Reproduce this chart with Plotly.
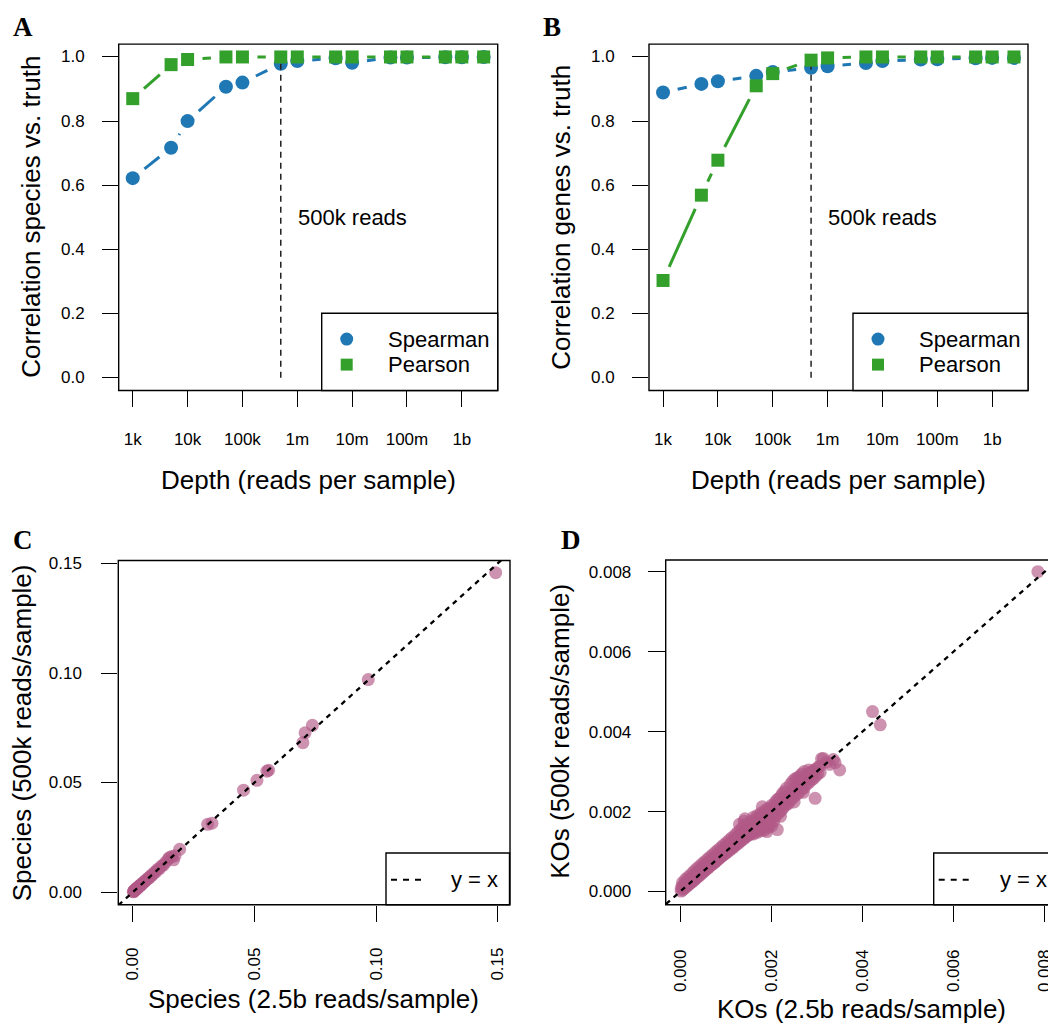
import math
import plotly.graph_objects as go

# The page body adds an 8px margin, so the figure is 8px smaller than the window
OFF = 8
WIN_W, WIN_H = 1056, 1025
FIG_W, FIG_H = WIN_W - OFF, WIN_H - OFF
FONT = "Liberation Sans"
SERIF = "Liberation Serif"

# ---------------- data ----------------
depth = [1e3, 5e3, 1e4, 5e4, 1e5, 5e5, 1e6, 5e6, 1e7, 5e7, 1e8, 5e8, 1e9, 2.5e9]
depth_tickvals = [1e3, 1e4, 1e5, 1e6, 1e7, 1e8, 1e9]
depth_ticktext = ["1k", "10k", "100k", "1m", "10m", "100m", "1b"]
ref_depth = 5e5
ref_label = "500k reads"

species_spearman = [0.622, 0.717, 0.800, 0.907, 0.920, 0.979, 0.987, 0.996, 0.982, 0.998, 0.998, 0.999, 0.999, 1.0]
species_pearson = [0.870, 0.976, 0.992, 1.0, 1.0, 1.0, 1.0, 1.0, 1.0, 1.0, 1.0, 1.0, 1.0, 1.0]
genes_spearman = [0.889, 0.916, 0.924, 0.941, 0.953, 0.966, 0.971, 0.981, 0.987, 0.992, 0.993, 0.996, 0.997, 0.997]
genes_pearson = [0.303, 0.569, 0.678, 0.910, 0.948, 0.990, 0.997, 1.0, 1.0, 1.0, 1.0, 1.0, 1.0, 1.0]

corr_ticks = [0.0, 0.2, 0.4, 0.6, 0.8, 1.0]

# species relative abundance: (2.5b reads/sample, 500k reads/sample)
species_pairs = [
    (0.0001, 0.0001), (0.0003, 0.0002), (0.0004, 0.0005), (0.0006, 0.0006), (0.0007, 0.0008),
    (0.0009, 0.0008), (0.0010, 0.0011), (0.0012, 0.0012), (0.0014, 0.0013), (0.0016, 0.0017),
    (0.0018, 0.0019), (0.0020, 0.0021), (0.0022, 0.0021), (0.0025, 0.0026), (0.0028, 0.0027),
    (0.0031, 0.0032), (0.0034, 0.0033), (0.0037, 0.0038), (0.0041, 0.0040), (0.0045, 0.0046),
    (0.0049, 0.0048), (0.0053, 0.0054), (0.0058, 0.0057), (0.0063, 0.0064), (0.0068, 0.0066),
    (0.0074, 0.0075), (0.0080, 0.0078), (0.0087, 0.0088), (0.0094, 0.0092), (0.0101, 0.0103),
    (0.0109, 0.0107), (0.0117, 0.0118), (0.0126, 0.0124), (0.0135, 0.0137), (0.0146, 0.0152),
    (0.0151, 0.0158), (0.0160, 0.0162), (0.0167, 0.0147), (0.0173, 0.0166), (0.0192, 0.0195),
    (0.0307, 0.0309), (0.0325, 0.0314), (0.0455, 0.0465), (0.0510, 0.0510), (0.0551, 0.0552),
    (0.0558, 0.0556), (0.0699, 0.0682), (0.0708, 0.0727), (0.0738, 0.0761), (0.0968, 0.0970),
    (0.1492, 0.1458),
]
species_ticks = [0.0, 0.05, 0.10, 0.15]

# KO relative abundance: (2.5b reads/sample, 500k reads/sample)
ko_pairs = [
    (0.2e-4, 0.1e-4), (0.2e-4, 0.9e-4),
    (0.5e-4, 0.4e-4), (0.5e-4, 1.3e-4), (0.5e-4, 2.2e-4),
    (0.8e-4, 0.7e-4), (0.8e-4, 1.7e-4),
    (1.1e-4, 1.0e-4), (1.1e-4, 2.0e-4), (1.1e-4, 3.0e-4),
    (1.4e-4, 1.3e-4), (1.4e-4, 2.4e-4),
    (1.7e-4, 1.6e-4), (1.7e-4, 2.6e-4), (1.7e-4, 3.6e-4),
    (2.0e-4, 1.9e-4), (2.0e-4, 3.0e-4),
    (2.3e-4, 2.2e-4), (2.3e-4, 3.1e-4), (2.3e-4, 4.2e-4),
    (2.6e-4, 2.4e-4), (2.6e-4, 3.5e-4),
    (2.9e-4, 2.8e-4), (2.9e-4, 3.8e-4), (2.9e-4, 4.9e-4),
    (3.2e-4, 3.0e-4), (3.2e-4, 4.2e-4),
    (3.5e-4, 3.4e-4), (3.5e-4, 4.5e-4), (3.5e-4, 5.6e-4),
    (3.8e-4, 3.6e-4), (3.8e-4, 4.8e-4),
    (4.1e-4, 4.0e-4), (4.1e-4, 5.1e-4), (4.1e-4, 6.2e-4),
    (4.4e-4, 4.2e-4), (4.4e-4, 5.4e-4),
    (4.7e-4, 4.6e-4), (4.7e-4, 5.7e-4), (4.7e-4, 6.8e-4),
    (5.0e-4, 4.8e-4), (5.0e-4, 6.0e-4),
    (5.3e-4, 5.2e-4), (5.3e-4, 6.3e-4), (5.3e-4, 7.4e-4),
    (5.6e-4, 5.4e-4), (5.6e-4, 6.6e-4),
    (5.9e-4, 5.8e-4), (5.9e-4, 6.9e-4), (5.9e-4, 8.0e-4),
    (6.2e-4, 6.0e-4), (6.2e-4, 7.2e-4),
    (6.5e-4, 6.4e-4), (6.5e-4, 7.5e-4), (6.5e-4, 8.6e-4),
    (6.8e-4, 6.6e-4), (6.8e-4, 7.8e-4),
    (7.1e-4, 7.0e-4), (7.1e-4, 8.1e-4), (7.1e-4, 9.2e-4),
    (7.4e-4, 7.1e-4), (7.4e-4, 8.4e-4),
    (7.7e-4, 7.5e-4), (7.7e-4, 8.7e-4), (7.7e-4, 9.8e-4),
    (8.0e-4, 7.7e-4), (8.0e-4, 9.0e-4),
    (8.3e-4, 8.1e-4), (8.3e-4, 9.3e-4), (8.3e-4, 10.4e-4),
    (8.6e-4, 8.3e-4), (8.6e-4, 9.6e-4),
    (8.9e-4, 8.7e-4), (8.9e-4, 9.9e-4), (8.9e-4, 11.0e-4),
    (9.2e-4, 8.9e-4), (9.2e-4, 10.2e-4),
    (9.5e-4, 9.2e-4), (9.5e-4, 10.5e-4), (9.5e-4, 11.6e-4),
    (9.8e-4, 9.4e-4), (9.8e-4, 10.8e-4),
    (10.1e-4, 9.8e-4), (10.1e-4, 11.1e-4), (10.1e-4, 12.2e-4),
    (10.4e-4, 9.9e-4), (10.4e-4, 11.4e-4),
    (10.7e-4, 10.4e-4), (10.7e-4, 11.7e-4), (10.7e-4, 12.8e-4),
    (11.0e-4, 10.5e-4), (11.0e-4, 12.0e-4),
    (11.3e-4, 11.0e-4), (11.3e-4, 12.3e-4), (11.3e-4, 13.4e-4),
    (11.6e-4, 11.0e-4), (11.6e-4, 12.6e-4),
    (11.9e-4, 11.5e-4), (11.9e-4, 12.9e-4), (11.9e-4, 14.0e-4),
    (12.2e-4, 11.6e-4), (12.2e-4, 13.2e-4),
    (12.5e-4, 12.1e-4), (12.5e-4, 13.5e-4), (12.5e-4, 14.7e-4),
    (12.8e-4, 12.1e-4), (12.8e-4, 13.8e-4),
    (13.0e-4, 16.8e-4),
    (13.1e-4, 12.6e-4), (13.1e-4, 14.1e-4), (13.1e-4, 15.3e-4),
    (13.4e-4, 12.7e-4), (13.4e-4, 14.4e-4),
    (13.7e-4, 13.2e-4), (13.7e-4, 14.7e-4), (13.7e-4, 16.0e-4),
    (14.0e-4, 13.2e-4), (14.0e-4, 15.0e-4), (14.0e-4, 17.6e-4),
    (14.2e-4, 18.2e-4),
    (14.3e-4, 13.7e-4), (14.3e-4, 15.3e-4), (14.3e-4, 16.5e-4),
    (14.6e-4, 13.8e-4), (14.6e-4, 15.6e-4),
    (14.9e-4, 14.2e-4), (14.9e-4, 15.9e-4), (14.9e-4, 17.0e-4),
    (15.2e-4, 14.2e-4), (15.2e-4, 16.2e-4),
    (15.5e-4, 14.6e-4), (15.5e-4, 16.5e-4), (15.5e-4, 17.6e-4),
    (15.8e-4, 14.6e-4), (15.8e-4, 16.8e-4),
    (16.1e-4, 14.4e-4), (16.1e-4, 15.8e-4), (16.1e-4, 17.2e-4), (16.1e-4, 18.6e-4),
    (16.5e-4, 15.0e-4), (16.5e-4, 16.6e-4), (16.5e-4, 18.0e-4),
    (16.9e-4, 14.8e-4), (16.9e-4, 16.2e-4), (16.9e-4, 17.6e-4), (16.9e-4, 19.0e-4),
    (17.3e-4, 15.6e-4), (17.3e-4, 17.0e-4), (17.3e-4, 18.6e-4),
    (17.7e-4, 15.2e-4), (17.7e-4, 16.8e-4), (17.7e-4, 18.2e-4), (17.7e-4, 19.6e-4),
    (18.0e-4, 21.2e-4),
    (18.1e-4, 16.0e-4), (18.1e-4, 17.6e-4), (18.1e-4, 19.2e-4),
    (18.5e-4, 15.4e-4), (18.5e-4, 17.2e-4), (18.5e-4, 18.8e-4), (18.5e-4, 20.2e-4),
    (18.9e-4, 16.4e-4), (18.9e-4, 18.2e-4), (18.9e-4, 19.8e-4),
    (19.0e-4, 15.0e-4),
    (19.3e-4, 16.0e-4), (19.3e-4, 17.8e-4), (19.3e-4, 19.4e-4), (19.3e-4, 20.8e-4),
    (19.7e-4, 16.8e-4), (19.7e-4, 18.8e-4), (19.7e-4, 20.6e-4),
    (20.1e-4, 16.4e-4), (20.1e-4, 18.6e-4), (20.1e-4, 20.2e-4), (20.1e-4, 21.6e-4),
    (20.5e-4, 17.6e-4), (20.5e-4, 19.6e-4), (20.5e-4, 21.4e-4),
    (20.9e-4, 18.8e-4), (20.9e-4, 20.6e-4), (20.9e-4, 22.4e-4),
    (21.3e-4, 15.5e-4), (21.3e-4, 19.4e-4), (21.3e-4, 21.2e-4), (21.3e-4, 23.0e-4),
    (21.7e-4, 19.8e-4), (21.7e-4, 21.6e-4), (21.7e-4, 23.2e-4),
    (22.0e-4, 18.8e-4),
    (22.1e-4, 20.2e-4), (22.1e-4, 22.0e-4), (22.1e-4, 23.8e-4),
    (22.5e-4, 20.8e-4), (22.5e-4, 22.4e-4), (22.5e-4, 24.6e-4),
    (22.9e-4, 21.4e-4), (22.9e-4, 23.0e-4), (22.9e-4, 25.0e-4),
    (23.3e-4, 21.8e-4), (23.3e-4, 23.6e-4), (23.3e-4, 25.8e-4),
    (23.7e-4, 22.0e-4), (23.7e-4, 24.0e-4),
    (24.2e-4, 22.8e-4), (24.2e-4, 24.6e-4), (24.2e-4, 26.8e-4),
    (24.7e-4, 23.4e-4), (24.7e-4, 25.2e-4), (24.7e-4, 27.6e-4),
    (25.0e-4, 22.4e-4),
    (25.2e-4, 24.0e-4), (25.2e-4, 26.0e-4), (25.2e-4, 28.2e-4),
    (25.7e-4, 24.4e-4), (25.7e-4, 26.4e-4), (25.7e-4, 28.4e-4),
    (26.2e-4, 25.0e-4), (26.2e-4, 27.2e-4), (26.2e-4, 28.8e-4),
    (26.7e-4, 25.6e-4), (26.7e-4, 27.6e-4), (26.7e-4, 29.4e-4),
    (27.0e-4, 24.8e-4),
    (27.2e-4, 26.0e-4), (27.2e-4, 28.2e-4), (27.2e-4, 30.0e-4),
    (27.7e-4, 26.8e-4), (27.7e-4, 28.8e-4),
    (28.2e-4, 27.2e-4), (28.2e-4, 29.4e-4), (28.2e-4, 30.4e-4),
    (28.7e-4, 27.8e-4), (28.7e-4, 29.8e-4),
    (29.2e-4, 28.2e-4), (29.2e-4, 30.2e-4),
    (29.6e-4, 23.3e-4),
    (29.7e-4, 28.8e-4), (29.7e-4, 30.6e-4),
    (30.2e-4, 29.4e-4), (30.2e-4, 31.0e-4),
    (30.7e-4, 29.8e-4), (30.7e-4, 31.4e-4),
    (31.0e-4, 33.2e-4), (31.4e-4, 33.3e-4), (32.2e-4, 32.4e-4), (32.8e-4, 31.8e-4),
    (33.6e-4, 33.0e-4), (34.0e-4, 32.2e-4), (35.0e-4, 30.4e-4),
    (42.2e-4, 45.0e-4), (43.9e-4, 41.7e-4), (78.5e-4, 80.0e-4),
]
ko_ticks = [0.0, 0.002, 0.004, 0.006, 0.008]

species_full = [p[0] for p in species_pairs]
species_sub = [p[1] for p in species_pairs]
ko_full = [p[0] for p in ko_pairs]
ko_sub = [p[1] for p in ko_pairs]

# ---------------- styling ----------------
BLUE = "#1f78b4"
GREEN = "#33a02c"
PINK = "rgba(178,90,135,0.66)"


# positions below are window pixels (as measured on the reference)
def px(xp):
    return (xp - OFF) / FIG_W


def py(yp):
    return 1 - (yp - OFF) / FIG_H


def dom_x(p0, p1):
    return [max(0.0, px(p0)), min(1.0, px(p1))]


def dom_y(top, bottom):
    return [py(bottom), py(top)]


# panel boxes in window pixels (left, right, top, bottom)
BOX_A = (118.7, 497.7, 38.3, 386.7)
BOX_B = (649.0, 1028.0, 38.3, 386.7)
BOX_C = (118.3, 510.0, 557.7, 904.0)
BOX_D = (665.7, 1056.0, 557.3, 904.0)

XR_DEPTH = [2.744, 9.654]      # log10 range
YR_CORR = [-0.04, 1.04]
XR_SPEC = [-0.00604, 0.1551]
YR_SPEC = [-0.0058, 0.1514]
XR_KO = [-0.00032, 0.008248]
YR_KO = [-0.00033, 0.00829]


def gapped_segments(xs, ys, box, xr, yr, gap=15.0):
    """R type='b' style: segments between points, shortened by a gap at each end."""
    wpx = box[1] - box[0]
    hpx = box[3] - box[2]
    sx, sy = [], []
    for i in range(len(xs) - 1):
        x0 = (math.log10(xs[i]) - xr[0]) / (xr[1] - xr[0]) * wpx
        x1 = (math.log10(xs[i + 1]) - xr[0]) / (xr[1] - xr[0]) * wpx
        y0 = (ys[i] - yr[0]) / (yr[1] - yr[0]) * hpx
        y1 = (ys[i + 1] - yr[0]) / (yr[1] - yr[0]) * hpx
        dx, dy = x1 - x0, y1 - y0
        L = math.hypot(dx, dy)
        if L <= 2 * gap:
            continue
        ux, uy = dx / L, dy / L
        for (a, b) in ((x0 + ux * gap, y0 + uy * gap), (x1 - ux * gap, y1 - uy * gap)):
            sx.append(10 ** (xr[0] + a / wpx * (xr[1] - xr[0])))
            sy.append(yr[0] + b / hpx * (yr[1] - yr[0]))
        sx.append(None)
        sy.append(None)
    return sx, sy


fig = go.Figure()


def add_corr_panel(xa, ya, box, spear, pear):
    sx, sy = gapped_segments(depth, spear, box, XR_DEPTH, YR_CORR)
    fig.add_trace(go.Scatter(x=sx, y=sy, mode="lines", xaxis=xa, yaxis=ya,
                             line=dict(color=BLUE, width=3), showlegend=False, hoverinfo="skip"))
    fig.add_trace(go.Scatter(x=depth, y=spear, mode="markers", xaxis=xa, yaxis=ya,
                             marker=dict(symbol="circle", size=14, color=BLUE, line=dict(width=0)),
                             showlegend=False, cliponaxis=False))
    fig.add_trace(go.Scatter(x=[ref_depth, ref_depth], y=[0, 1], mode="lines", xaxis=xa, yaxis=ya,
                             line=dict(color="#222222", width=1.5, dash="6px,5px"),
                             showlegend=False, hoverinfo="skip"))
    gx, gy = gapped_segments(depth, pear, box, XR_DEPTH, YR_CORR)
    fig.add_trace(go.Scatter(x=gx, y=gy, mode="lines", xaxis=xa, yaxis=ya,
                             line=dict(color=GREEN, width=3), showlegend=False, hoverinfo="skip"))
    fig.add_trace(go.Scatter(x=depth, y=pear, mode="markers", xaxis=xa, yaxis=ya,
                             marker=dict(symbol="square", size=13, color=GREEN, line=dict(width=0)),
                             showlegend=False, cliponaxis=False))


add_corr_panel("x", "y", BOX_A, species_spearman, species_pearson)
add_corr_panel("x2", "y2", BOX_B, genes_spearman, genes_pearson)


def add_scatter_panel(xa, ya, xs, ys, xr):
    fig.add_trace(go.Scatter(x=xs, y=ys, mode="markers", xaxis=xa, yaxis=ya,
                             marker=dict(size=13, color=PINK, line=dict(width=0)),
                             showlegend=False))
    fig.add_trace(go.Scatter(x=[xr[0] * 2, xr[1] * 1.2], y=[xr[0] * 2, xr[1] * 1.2],
                             mode="lines", xaxis=xa, yaxis=ya,
                             line=dict(color="black", width=2.3, dash="5px,5px"),
                             showlegend=False, hoverinfo="skip"))


add_scatter_panel("x3", "y3", species_full, species_sub, XR_SPEC)
add_scatter_panel("x4", "y4", ko_full, ko_sub, XR_KO)

tickfont = dict(family=FONT, size=17, color="black")


def ax(**kw):
    d = dict(showgrid=False, zeroline=False, showline=False, ticks="outside",
             ticklen=16, tickwidth=1.3, tickcolor="black", tickfont=tickfont,
             fixedrange=True)
    d.update(kw)
    return d


# correlation y axes: tick marks from the axis, labels placed as annotations below
corr_axis = dict(range=YR_CORR, tickvals=corr_ticks, showticklabels=False)

layout = dict(
    width=FIG_W, height=FIG_H, autosize=False,
    margin=dict(l=0, r=0, t=0, b=0),
    paper_bgcolor="white", plot_bgcolor="white",
    showlegend=False,
    xaxis=ax(type="log", range=XR_DEPTH, domain=dom_x(BOX_A[0], BOX_A[1]), anchor="y",
             tickvals=depth_tickvals, ticktext=depth_ticktext, ticklabelstandoff=17),
    yaxis=ax(domain=dom_y(BOX_A[2], BOX_A[3]), anchor="x", **corr_axis),
    xaxis2=ax(type="log", range=XR_DEPTH, domain=dom_x(BOX_B[0], BOX_B[1]), anchor="y2",
              tickvals=depth_tickvals, ticktext=depth_ticktext, ticklabelstandoff=17),
    yaxis2=ax(domain=dom_y(BOX_B[2], BOX_B[3]), anchor="x2", **corr_axis),
    xaxis3=ax(range=XR_SPEC, domain=dom_x(BOX_C[0], BOX_C[1]), anchor="y3",
              tickvals=species_ticks, tickformat=".2f", tickangle=-90, ticklabelstandoff=19),
    yaxis3=ax(range=YR_SPEC, domain=dom_y(BOX_C[2], BOX_C[3]), anchor="x3",
              tickvals=species_ticks, tickformat=".2f", ticklabelstandoff=16),
    xaxis4=ax(range=XR_KO, domain=dom_x(BOX_D[0], BOX_D[1]), anchor="y4",
              tickvals=ko_ticks, tickformat=".3f", tickangle=-90, ticklabelstandoff=21),
    yaxis4=ax(range=YR_KO, domain=dom_y(BOX_D[2], BOX_D[3]), anchor="x4",
              tickvals=ko_ticks, tickformat=".3f", ticklabelstandoff=13, ticklen=17),
)
fig.update_layout(**layout)

shapes = []
# panel boxes
for b, extra in ((BOX_A, 0), (BOX_B, 0), (BOX_C, 0), (BOX_D, 4)):
    shapes.append(dict(type="rect", xref="paper", yref="paper",
                       x0=px(b[0]), x1=px(b[1] + extra), y0=py(b[3]), y1=py(b[2]),
                       line=dict(color="black", width=1.4), fillcolor="rgba(0,0,0,0)", layer="above"))

# legends for A and B
for lx0, rx in ((321.7, BOX_A[1]), (853.0, BOX_B[1])):
    shapes.append(dict(type="rect", xref="paper", yref="paper",
                       x0=px(lx0), x1=px(rx), y0=py(386.7), y1=py(309.0),
                       line=dict(color="black", width=1.4), fillcolor="white", layer="above"))
    mx = lx0 + 25.0
    shapes.append(dict(type="circle", xref="paper", yref="paper",
                       x0=px(mx - 6.5), x1=px(mx + 6.5), y0=py(335 + 6.5), y1=py(335 - 6.5),
                       line=dict(width=0), fillcolor=BLUE, layer="above"))
    shapes.append(dict(type="rect", xref="paper", yref="paper",
                       x0=px(mx - 6), x1=px(mx + 6), y0=py(360.7 + 6), y1=py(360.7 - 6),
                       line=dict(width=0), fillcolor=GREEN, layer="above"))

# legends for C and D
for lx0, rx in ((386.0, 509.5), (933.7, 1060.0)):
    shapes.append(dict(type="rect", xref="paper", yref="paper",
                       x0=px(lx0), x1=px(rx), y0=py(904.0), y1=py(852.0),
                       line=dict(color="black", width=1.4), fillcolor="white", layer="above"))
    shapes.append(dict(type="line", xref="paper", yref="paper",
                       x0=px(lx0 + 5), x1=px(lx0 + 40), y0=py(879), y1=py(879),
                       line=dict(color="black", width=2.0, dash="6px,6px"), layer="above"))

fig.update_layout(shapes=shapes)

ann = []


def txt(x, y, text, size, xanchor="center", yanchor="middle", angle=0, family=FONT, **kw):
    d = dict(x=x, y=y, xref="paper", yref="paper", text=text, showarrow=False,
             xanchor=xanchor, yanchor=yanchor, textangle=angle,
             font=dict(family=family, size=size, color="black"))
    d.update(kw)
    ann.append(d)


# y tick labels of the correlation panels (value positions through the y axes)
for yref, right_px in (("y", 86.7), ("y2", 616.5)):
    for v in corr_ticks:
        ann.append(dict(x=px(right_px), xref="paper", y=v, yref=yref, text=f"{v:.1f}",
                        showarrow=False, xanchor="right", yanchor="middle",
                        font=dict(family=FONT, size=17, color="black")))

# panel letters
txt(px(23), py(21), "<b>A</b>", 27, family=SERIF)
txt(px(552), py(21), "<b>B</b>", 27, family=SERIF)
txt(px(22.5), py(537.5), "<b>C</b>", 27, family=SERIF)
txt(px(571), py(537.5), "<b>D</b>", 27, family=SERIF)

# axis titles
txt(px(308), py(477), "Depth (reads per sample)", 26)
txt(px(31), py(212), "Correlation species vs. truth", 26, angle=-90)
txt(px(838.5), py(477), "Depth (reads per sample)", 26)
txt(px(561), py(213), "Correlation genes vs. truth", 26, angle=-90)
txt(px(313), py(999), "Species (2.5b reads/sample)", 26)
txt(px(21.5), py(731), "Species (500k reads/sample)", 26, angle=-90)
txt(px(861), py(1009), "KOs (2.5b reads/sample)", 26)
txt(px(560), py(730), "KOs (500k reads/sample)", 26, angle=-90)

# legend texts
for lx0 in (321.7, 853.0):
    txt(px(lx0 + 64), py(335), "Spearman", 22, xanchor="left")
    txt(px(lx0 + 64), py(360.7), "Pearson", 22, xanchor="left")
txt(px(499.5), py(879), "y = x", 22, xanchor="right")
txt(px(1049), py(879), "y = x", 22, xanchor="right")

# "500k reads" labels, placed in data coordinates
for xa, ya in (("x", "y"), ("x2", "y2")):
    ann.append(dict(x=math.log10(ref_depth), y=0.5, xref=xa, yref=ya, text=ref_label,
                    showarrow=False, xanchor="left", yanchor="middle", xshift=15,
                    font=dict(family=FONT, size=22, color="black")))

fig.update_layout(annotations=ann)

fig.write_html("out.html")
